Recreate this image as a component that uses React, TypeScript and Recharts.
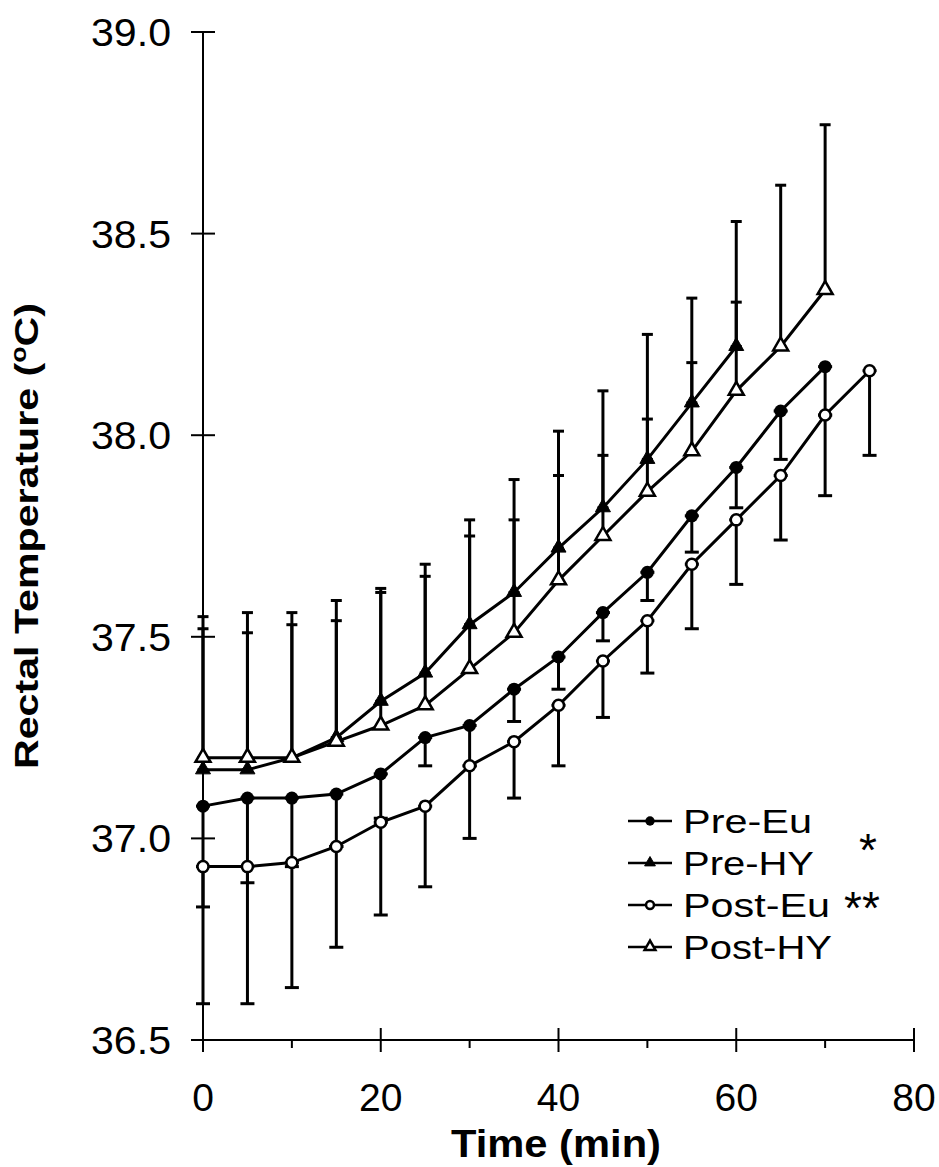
import { LineChart, Line, XAxis, YAxis, ErrorBar, Legend } from "recharts";

// time points (min)
const times = [0, 5, 10, 15, 20, 25, 30, 35, 40, 45, 50, 55, 60, 65, 70, 75];

// means (deg C)
const preEu = [37.08, 37.1, 37.1, 37.11, 37.16, 37.25, 37.28, 37.37, 37.45, 37.56, 37.66, 37.8, 37.92, 38.06, 38.17];
const preHY = [37.17, 37.17, 37.2, 37.25, 37.34, 37.41, 37.53, 37.61, 37.72, 37.82, 37.94, 38.08, 38.22];
const postEu = [36.93, 36.93, 36.94, 36.98, 37.04, 37.08, 37.18, 37.24, 37.33, 37.44, 37.54, 37.68, 37.79, 37.9, 38.05, 38.16];
const postHY = [37.2, 37.2, 37.2, 37.24, 37.28, 37.33, 37.42, 37.51, 37.64, 37.75, 37.86, 37.96, 38.11, 38.22, 38.36];

// ends of the error bars (Eu drawn downward, HY upward)
const preEuLow = [36.83, 36.89, 36.93, 36.98, 37.05, 37.18, 37.18, 37.29, 37.37, 37.49, 37.59, 37.71, 37.82, 37.94, 38.05];
const postEuLow = [36.59, 36.59, 36.63, 36.73, 36.81, 36.88, 37.0, 37.1, 37.18, 37.3, 37.41, 37.52, 37.63, 37.74, 37.85, 37.95];
const preHYHigh = [37.55, 37.56, 37.56, 37.59, 37.62, 37.68, 37.79, 37.89, 38.01, 38.11, 38.25, 38.34, 38.53];
const postHYHigh = [37.52, 37.51, 37.53, 37.54, 37.61, 37.65, 37.75, 37.79, 37.9, 37.95, 38.04, 38.18, 38.33, 38.62, 38.77];

const xTicks = [0, 10, 20, 30, 40, 50, 60, 70, 80];
const yTicks = [36.5, 37.0, 37.5, 38.0, 38.5, 39.0];

const legendNames = ["Pre-Eu", "Pre-HY", "Post-Eu", "Post-HY"];
const legendWidths = [129, 131, 147, 149];

const FONT = "'Liberation Sans', Arial, Helvetica, sans-serif";

const down = (m: number[], lo: number[], i: number) =>
  m[i] == null ? undefined : [+(m[i] - lo[i]).toFixed(3), 0];
const up = (m: number[], hi: number[], i: number) =>
  m[i] == null ? undefined : [0, +(hi[i] - m[i]).toFixed(3)];

const data = times.map((t, i) => ({
  t,
  preEu: preEu[i],
  preEuErr: down(preEu, preEuLow, i),
  preHY: preHY[i],
  preHYErr: up(preHY, preHYHigh, i),
  postEu: postEu[i],
  postEuErr: down(postEu, postEuLow, i),
  postHY: postHY[i],
  postHYErr: up(postHY, postHYHigh, i),
}));

type Shape = "circle" | "triangle";

function marker(shape: Shape, filled: boolean, cx: number, cy: number, s = 1, key?: string) {
  const fill = filled ? "#000" : "#fff";
  if (shape === "circle") {
    return <circle key={key} cx={cx} cy={cy} r={(filled ? 6.5 : 5.5) * s} fill={fill} stroke="#000" strokeWidth={filled ? 0 : 2.5} />;
  }
  // apex higher than the base is low, so the cap drawn at the mean stays inside
  const top = 9 * s;
  const bot = 4 * s;
  const hw = 7.5 * s;
  return (
    <polygon
      key={key}
      points={`${cx},${cy - top} ${cx - hw},${cy + bot} ${cx + hw},${cy + bot}`}
      fill={fill}
      stroke="#000"
      strokeWidth={filled ? 1 : 2.5}
      strokeLinejoin="miter"
    />
  );
}

const dotFn = (shape: Shape, filled: boolean) => (p: any) => {
  const key = `${p.dataKey}-${p.index}`;
  if (p.cy == null || p.value == null) return <g key={key} />;
  return marker(shape, filled, p.cx, p.cy, 1, key);
};

function XTick(props: any) {
  const { x, y, payload } = props;
  const v = payload.value;
  const major = v % 20 === 0;
  return (
    <g>
      <line x1={x} x2={x} y1={major ? y - 12 : y} y2={y + (major ? 12 : 8)} stroke="#000" strokeWidth={2} />
      {major && (
        <text x={x} y={y + 71} textAnchor="middle" fontSize={39} fontFamily={FONT} fill="#000">
          {v}
        </text>
      )}
    </g>
  );
}

function YTick(props: any) {
  const { x, y, payload } = props;
  return (
    <g>
      <line x1={x - 12} x2={x + 12} y1={y} y2={y} stroke="#000" strokeWidth={2} />
      <text x={x - 32} y={y + 14} textAnchor="end" fontSize={39} fontFamily={FONT} fill="#000"
        textLength={80} lengthAdjust="spacingAndGlyphs">
        {payload.value.toFixed(1)}
      </text>
    </g>
  );
}

const series = [
  { key: "preEu", shape: "circle" as Shape, filled: true, cap: 7 },
  { key: "preHY", shape: "triangle" as Shape, filled: true, cap: 5.5 },
  { key: "postEu", shape: "circle" as Shape, filled: false, cap: 7 },
  { key: "postHY", shape: "triangle" as Shape, filled: false, cap: 5.5 },
];

function LegendBox() {
  return (
    <svg width={320} height={190} style={{ overflow: "visible" }}>
      {series.map((s, i) => {
        const base = 43 + i * 42;
        const my = base - 12;
        return (
          <g key={s.key}>
            <line x1={28} x2={72} y1={my} y2={my} stroke="#000" strokeWidth={2.5} />
            {marker(s.shape, s.filled, 50, my, 0.72)}
            <text x={83} y={base} fontSize={33} fontFamily={FONT} fill="#000"
              textLength={legendWidths[i]} lengthAdjust="spacingAndGlyphs">
              {legendNames[i]}
            </text>
          </g>
        );
      })}
      <text x={268} y={76} textAnchor="middle" fontSize={46} fontFamily={FONT} fill="#000">*</text>
      <text x={262} y={134} textAnchor="middle" fontSize={46} fontFamily={FONT} fill="#000">**</text>
    </svg>
  );
}

export default function App() {
  return (
    <div style={{ position: "absolute", left: 0, top: 0, width: 939, height: 1167, background: "#fff" }}>
      <LineChart width={939} height={1167} data={data} margin={{ top: 32, right: 25, bottom: 27, left: 93 }}>
        <XAxis
          type="number"
          dataKey="t"
          domain={[0, 80]}
          ticks={xTicks}
          interval={0}
          height={100}
          tickSize={0}
          tickMargin={0}
          tickLine={false}
          axisLine={{ stroke: "#000", strokeWidth: 2 }}
          tick={<XTick />}
          label={{
            content: () => (
              <text x={556} y={1157} textAnchor="middle" fontSize={38} fontWeight="bold" fontFamily={FONT}
                fill="#000" textLength={210} lengthAdjust="spacingAndGlyphs">
                Time (min)
              </text>
            ),
          }}
        />
        <YAxis
          type="number"
          domain={[36.5, 39]}
          ticks={yTicks}
          interval={0}
          width={110}
          tickSize={0}
          tickMargin={0}
          tickLine={false}
          axisLine={{ stroke: "#000", strokeWidth: 2 }}
          tick={<YTick />}
          label={{
            content: () => (
              <text x={38} y={536} transform="rotate(-90 38 536)" textAnchor="middle" fontSize={34}
                fontWeight="bold" fontFamily={FONT} fill="#000" textLength={466} lengthAdjust="spacingAndGlyphs">
                Rectal Temperature (<tspan dy={-12} fontSize={22}>o</tspan><tspan dy={12}>C)</tspan>
              </text>
            ),
          }}
        />
        <Legend
          layout="horizontal"
          verticalAlign="middle"
          align="center"
          wrapperStyle={{ position: "absolute", left: 600, top: 790, width: 320, height: 190 }}
          content={() => <LegendBox />}
        />
        {series.map((s) => (
          <Line
            key={s.key}
            type="linear"
            dataKey={s.key}
            stroke="#000"
            strokeWidth={3}
            dot={dotFn(s.shape, s.filled)}
            activeDot={false}
            isAnimationActive={false}
          >
            <ErrorBar dataKey={`${s.key}Err`} direction="y" width={s.cap} strokeWidth={3} stroke="#000" />
          </Line>
        ))}
      </LineChart>
    </div>
  );
}
